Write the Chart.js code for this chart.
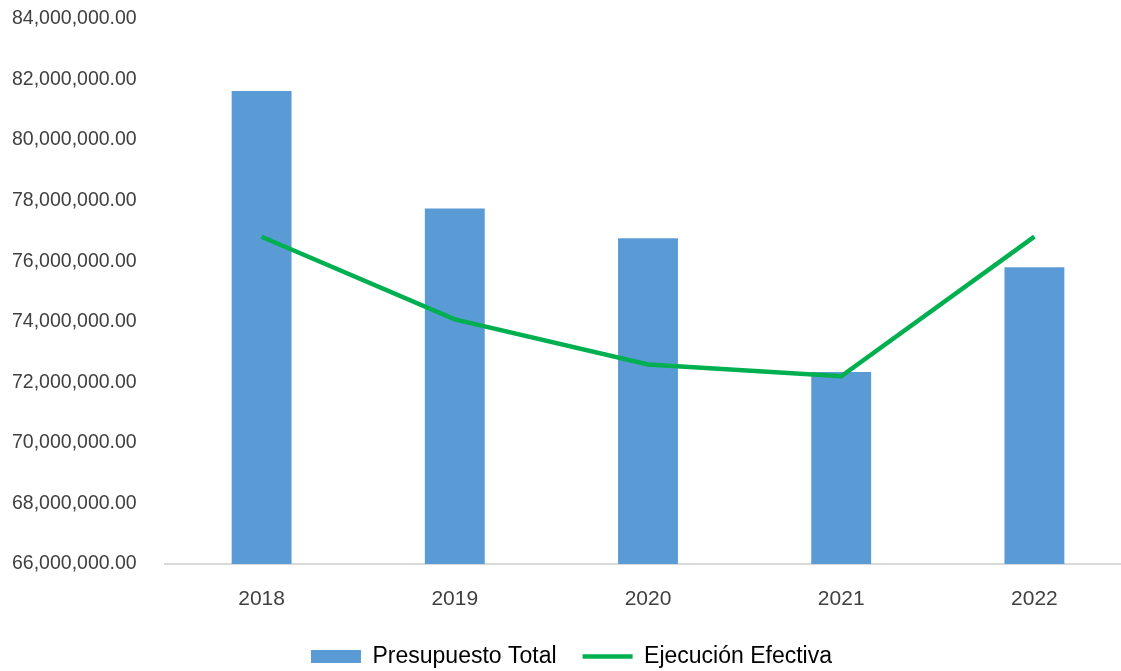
<!DOCTYPE html>
<html lang="es">
<head>
    <script src="https://cdn.jsdelivr.net/npm/chart.js"></script>
    <meta charset="UTF-8">
    <title>Presupuesto</title>
    <style>
        html, body { margin: 0; padding: 0; overflow: hidden; background: #fff; }
        #wrap { width: 1131px; height: 671px; }
    </style>
</head>
<body>
<div id="wrap"><canvas id="chart"></canvas></div>
<script>
    // datos
    var anios = ['2018', '2019', '2020', '2021', '2022'];
    var presupuestoTotal = [81620000, 77740000, 76760000, 72340000, 75800000];
    var ejecucionEfectiva = [76810000, 74080000, 72590000, 72200000, 76810000];
    var ejeMin = 66000000;
    var ejeMax = 84000000;
    var ejePaso = 2000000;

    var textoColor = '#404040';
    var fuente = "'Liberation Sans', Arial, sans-serif";

    var ctx = document.getElementById('chart').getContext('2d');
    var chart = new Chart(ctx, {
        type: 'bar',
        data: {
            labels: anios,
            datasets: [
                {
                    type: 'line',
                    label: 'Ejecución Efectiva',
                    data: ejecucionEfectiva,
                    borderColor: '#00B050',
                    backgroundColor: '#00B050',
                    borderWidth: 4.5,
                    pointRadius: 0,
                    pointStyle: 'line',
                    tension: 0,
                    order: 1
                },
                {
                    label: 'Presupuesto Total',
                    data: presupuestoTotal,
                    backgroundColor: '#5B9BD5',
                    borderWidth: 0,
                    pointStyle: 'rect',
                    categoryPercentage: 1,
                    barPercentage: 0.31,
                    order: 2
                }
            ]
        },
        options: {
            responsive: true,
            maintainAspectRatio: false,
            animation: false,
            layout: {
                padding: { top: 19, left: 12, right: 0, bottom: -7 }
            },
            scales: {
                x: {
                    grid: { display: false, drawTicks: false },
                    border: { display: true, color: '#D9D9D9', width: 2 },
                    afterFit: function (scale) { scale.height = 55; },
                    ticks: {
                        color: textoColor,
                        font: { family: fuente, size: 21 },
                        padding: 23
                    }
                },
                y: {
                    min: ejeMin,
                    max: ejeMax,
                    grid: { display: false, drawTicks: false },
                    border: { display: false },
                    afterFit: function (scale) { scale.width = 153; },
                    ticks: {
                        stepSize: ejePaso,
                        color: textoColor,
                        font: { family: fuente, size: 19.5 },
                        padding: 0,
                        crossAlign: 'far',
                        callback: function (v) {
                            return v.toLocaleString('en-US', { minimumFractionDigits: 2, maximumFractionDigits: 2 });
                        }
                    }
                }
            },
            plugins: {
                tooltip: { enabled: false },
                legend: {
                    position: 'bottom',
                    reverse: true,
                    labels: {
                        usePointStyle: true,
                        pointStyleWidth: 50,
                        boxHeight: 13,
                        padding: 26,
                        color: '#000',
                        font: { family: fuente, size: 23 }
                    }
                }
            }
        }
    });
</script>
</body>
</html>
